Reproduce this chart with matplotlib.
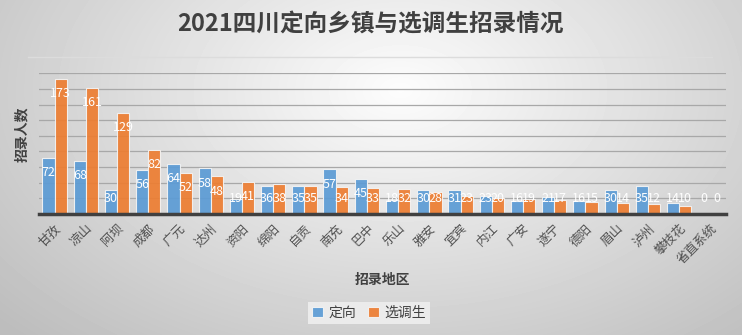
import numpy as np
import matplotlib
matplotlib.use('Agg')
import matplotlib.pyplot as plt

plt.rcParams['font.family'] = ['Noto Sans CJK SC', 'DejaVu Sans']

# 数据
regions = ['甘孜', '凉山', '阿坝', '成都', '广元', '达州', '资阳', '绵阳', '自贡', '南充', '巴中',
           '乐山', '雅安', '宜宾', '内江', '广安', '遂宁', '德阳', '眉山', '泸州', '攀枝花', '省直系统']
dingxiang = [72, 68, 30, 56, 64, 58, 19, 36, 35, 57, 45, 18, 30, 31, 23, 16, 21, 16, 30, 35, 14, 0]
xuandiao = [173, 161, 129, 82, 52, 48, 41, 38, 35, 34, 33, 32, 28, 23, 20, 19, 17, 15, 14, 12, 10, 0]

blue = '#5B9BD5'
orange = '#ED7D31'

fig = plt.figure(figsize=(7.42, 3.35), dpi=100)

# 背景渐变
bg = fig.add_axes([0, 0, 1, 1], zorder=-10)
yy, xx = np.mgrid[0:335, 0:742]
r = np.sqrt(((xx - 400) / 520.0) ** 2 + ((yy - 90) / 330.0) ** 2)
shade = np.clip(0.99 - 0.24 * r, 0.74, 1.0)
bg.imshow(shade, cmap='gray', vmin=0, vmax=1, aspect='auto', extent=[0, 1, 0, 1])
bg.axis('off')

# 标题下的分隔线
fig.add_artist(plt.Line2D([28 / 742, 712 / 742], [1 - 57 / 335, 1 - 57 / 335],
                          color='#dcdcdc', lw=1))

ax = fig.add_axes([39 / 742, 121.3 / 335, 687 / 742, 140.4 / 335])
ax.set_facecolor('none')

x = np.arange(len(regions))
w = 0.39
ax.bar(x - w / 2, dingxiang, w, color=blue, edgecolor='#f4f4f4', linewidth=0.8, alpha=0.92, label='定向', zorder=3)
ax.bar(x + w / 2, xuandiao, w, color=orange, edgecolor='#f4f4f4', linewidth=0.8, alpha=0.92, label='选调生', zorder=3)

# 数据标签（白色，柱内顶部）
for xi, a, b in zip(x, dingxiang, xuandiao):
    ax.text(xi - w / 2, max(a - 19, 19), str(a), ha='center', va='center',
            color='white', fontsize=9, zorder=4)
    ax.text(xi + w / 2, max(b - 19, 19), str(b), ha='center', va='center',
            color='white', fontsize=9, zorder=4)

ax.set_xlim(-0.5, len(regions) - 0.5)
ax.set_ylim(0, 180)
ax.set_yticks(np.arange(20, 181, 20))
ax.set_yticklabels([])
ax.tick_params(axis='y', length=0)
ax.grid(axis='y', color='#a8a8a8', linewidth=0.9, zorder=0)
ax.set_axisbelow(True)
for s in ['top', 'right', 'left']:
    ax.spines[s].set_visible(False)
ax.spines['bottom'].set_color('#404040')
ax.spines['bottom'].set_linewidth(2.5)
ax.spines['bottom'].set_zorder(5)

ax.set_xticks(x)
ax.set_xticklabels(regions, rotation=45, ha='right', rotation_mode='anchor',
                   fontsize=9, color='#505050')
ax.tick_params(axis='x', length=0, pad=6)

fig.text(22 / 742, 1 - 134 / 335, '招录人数', rotation=90, ha='center', va='center',
         fontsize=10, fontweight='bold', color='#404040')
fig.text(382 / 742, 1 - 280 / 335, '招录地区', ha='center', va='center',
         fontsize=10, fontweight='bold', color='#404040')
fig.text(370 / 742, 1 - 24 / 335, '2021四川定向乡镇与选调生招录情况', ha='center', va='center',
         fontsize=17, fontweight='bold', color='#404040')

leg = fig.legend(loc='center', bbox_to_anchor=(369 / 742, 1 - 313 / 335), ncol=2,
                 fontsize=10, frameon=True, fancybox=False, facecolor='#ebebeb',
                 edgecolor='none', framealpha=1, handlelength=0.8, handleheight=0.8,
                 handletextpad=0.4, columnspacing=0.8, borderpad=0.3)
for t in leg.get_texts():
    t.set_color('#404040')

fig.savefig('out.png', dpi=100)
